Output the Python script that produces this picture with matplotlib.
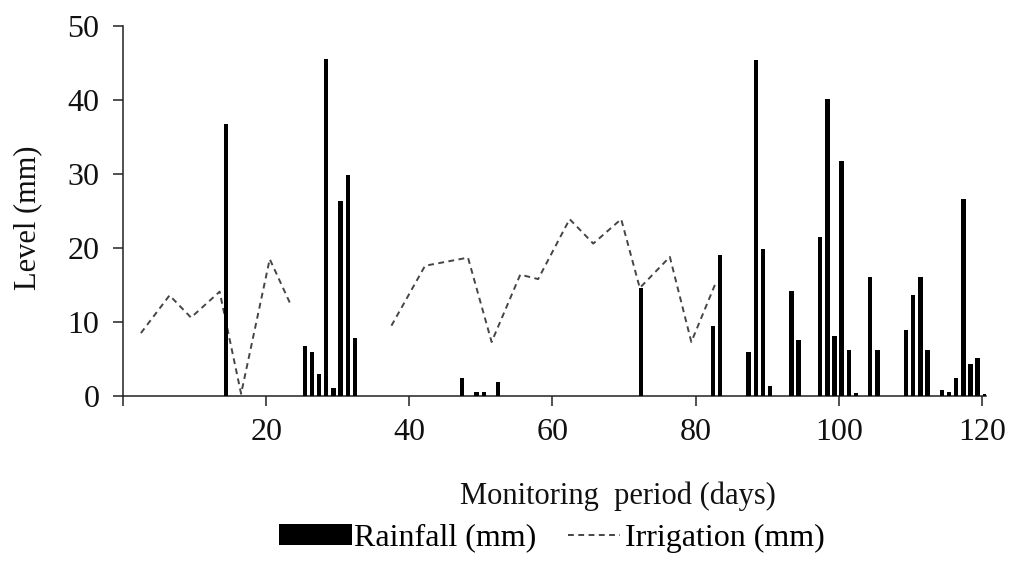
import numpy as np
import matplotlib
matplotlib.use("Agg")
import matplotlib.pyplot as plt
from matplotlib.patches import Patch
from matplotlib.lines import Line2D

# ---- data ----
rain_days = [14, 25, 26, 27, 28, 29, 30, 31, 32, 47, 49, 50, 52, 72,
             82, 83, 87, 88, 89, 90, 93, 94, 97, 98, 99, 100, 101, 102,
             104, 105, 109, 110, 111, 112, 114, 115, 116, 117, 118, 119, 120]
rain_mm = [36.8, 6.8, 6.0, 3.0, 45.5, 1.1, 26.4, 29.9, 7.8, 2.4, 0.5, 0.5, 1.9, 14.6,
           9.4, 19.1, 5.9, 45.4, 19.9, 1.4, 14.2, 7.6, 21.5, 40.1, 8.1, 31.7, 6.2, 0.35,
           16.1, 6.2, 8.9, 13.7, 16.1, 6.2, 0.8, 0.6, 2.4, 26.6, 4.3, 5.1, 0.3]

irr_days = [2.5, 6.5, 9.5, 13.5, 16.5, 20.5, 23.5, np.nan,
            37.5, 42.2, 48.2, 51.5, 55.5, 58.0, 62.4, 65.7, 69.6, 72.2, 76.4, 79.4, 82.9]
irr_mm = [8.5, 13.6, 10.6, 14.1, 0.3, 18.5, 12.2, np.nan,
          9.5, 17.6, 18.7, 7.3, 16.4, 15.8, 23.9, 20.6, 23.9, 14.6, 18.8, 7.3, 15.5]

x_ticks = [20, 40, 60, 80, 100, 120]
y_ticks = [0, 10, 20, 30, 40, 50]

# ---- style ----
plt.rcParams['font.family'] = ['Liberation Serif', 'DejaVu Serif']
plt.rcParams['lines.scale_dashes'] = False

fig = plt.figure(figsize=(10.11, 5.62), dpi=100)
ax = fig.add_axes([123/1011, 1 - 396/562, 862.5/1011, 370/562])

bar_offset = 0.4
ax.bar(np.array(rain_days) + bar_offset, rain_mm, width=0.62, color='black',
       linewidth=0, zorder=3)
line_kw = dict(color='#454545', lw=1.4, dashes=(4.2, 3.2))
ax.plot(irr_days, irr_mm, zorder=2, **line_kw)

ax.set_xlim(0, 120.5)
ax.set_ylim(0, 50)
ax.set_xticks([0] + x_ticks)
ax.set_xticklabels([''] + [str(t) for t in x_ticks])
ax.set_yticks(y_ticks)

for s in ['top', 'right']:
    ax.spines[s].set_visible(False)
for s in ['left', 'bottom']:
    ax.spines[s].set_linewidth(1.1)
    ax.spines[s].set_color('#222222')

ax.tick_params(axis='both', direction='out', length=7, width=1.1, color='#222222',
               labelsize=23, labelcolor='#111111')
ax.tick_params(axis='x', pad=8.5)
ax.tick_params(axis='y', pad=10)

ax.set_ylabel('Level (mm)', fontsize=22, color='#111111')
ax.yaxis.label.set_va('center')
ax.yaxis.set_label_coords(-0.111, 0.482)
ax.set_xlabel('Monitoring  period (days)', fontsize=22, color='#111111')
ax.xaxis.set_label_coords(0.574, -0.27)
ax.xaxis.label.set_va('center')

leg_y = 1 - 538/562
leg1 = fig.legend(handles=[Patch(facecolor='black', edgecolor='none', label='Rainfall (mm)')],
                  loc='center left', bbox_to_anchor=(279/1011, leg_y),
                  frameon=False, fontsize=23, handlelength=2.3, handleheight=0.65,
                  handletextpad=0.06, borderpad=0, borderaxespad=0)
leg2 = fig.legend(handles=[Line2D([], [], label='Irrigation (mm)', **line_kw)],
                  loc='center left', bbox_to_anchor=(568/1011, leg_y),
                  frameon=False, fontsize=23, handlelength=1.62,
                  handletextpad=0.16, borderpad=0, borderaxespad=0)

fig.savefig('out.png', dpi=100)
